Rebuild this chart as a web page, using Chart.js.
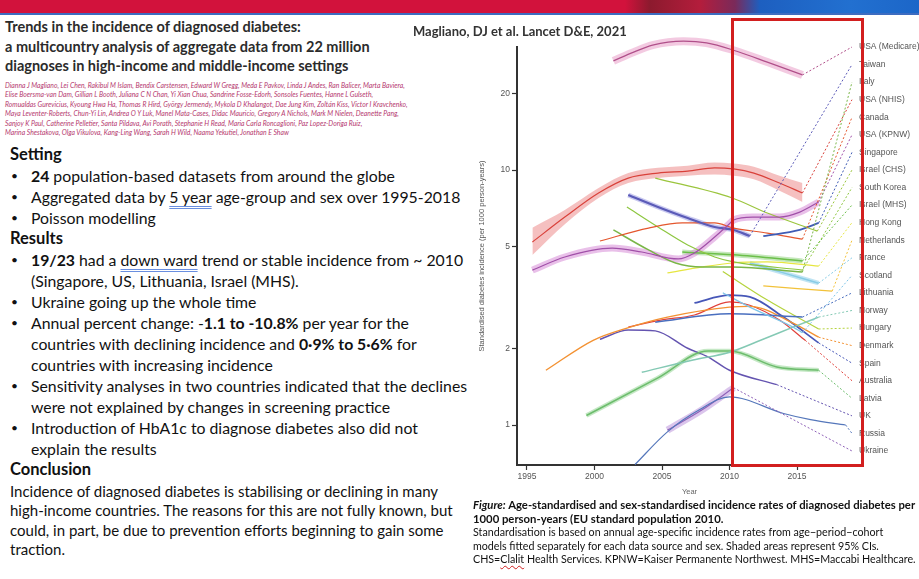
<!DOCTYPE html>
<html>
<head>
<meta charset="utf-8">
<script src="https://cdn.jsdelivr.net/npm/chart.js@4.4.1/dist/chart.umd.min.js"></script>
<style>
  html, body { margin: 0; padding: 0; background: #fff; }
  body { width: 919px; height: 579px; position: relative; overflow: hidden; font-family: Lato, "Open Sans", sans-serif; color: #111; }
  #banner { position: absolute; left: 0; top: 0; width: 919px; height: 13px;
    background: linear-gradient(90deg, #d2123c 0, #d2123c 625px, #8c1a2e 650px, #b41d3c 700px, #7a2a5a 735px, #1d5fc0 760px, #2270d0 850px, #1c66c8 919px); }
  #bannerLine { position: absolute; left: 0; top: 13px; width: 919px; height: 2px; background: #3d6cc0; }
  #title { position: absolute; left: 5px; top: 17px; font-family: "Liberation Sans Narrow", "Arial Narrow", Lato, sans-serif; font-weight: bold; font-size: 14.5px; line-height: 19.5px; color: #2b2b2b; white-space: nowrap; }
  #authors { position: absolute; left: 5px; top: 81px; font-family: "Liberation Sans Narrow", "Arial Narrow", Lato, sans-serif; font-style: italic; font-size: 6.8px; line-height: 9.45px; color: #b5386e; white-space: nowrap; }
  #body { position: absolute; left: 0; top: 144px; font-size: 15.8px; line-height: 21px; white-space: nowrap; }
  .h { padding-left: 10px; font-weight: bold; font-size: 16.5px; }
  .b, .c { padding-left: 31px; position: relative; }
  .b .dot { position: absolute; left: 11px; font-size: 12px; }
  .u { text-decoration: underline double; text-decoration-color: #6a8fe0; text-underline-offset: 3px; text-decoration-thickness: 1px; }
  #concl { position: absolute; left: 10px; top: 482px; font-size: 15px; line-height: 19.4px; white-space: nowrap; }
  #chartBox { position: absolute; left: 470px; top: 20px; width: 449px; height: 500px; background: #fff; }
  #ref { position: absolute; left: 413px; top: 23px; font-weight: bold; font-size: 13px; color: #333; white-space: nowrap; }
  #redBox { position: absolute; left: 731px; top: 18px; width: 133px; height: 449px; border: 3px solid #d21f1f; box-sizing: border-box; }
  #caption { position: absolute; left: 473px; top: 498px; font-size: 10.7px; line-height: 13.5px; color: #111; white-space: nowrap; }
  #caption b { font-size: 11.3px; }
  .wavy { text-decoration: underline wavy #d02020; text-decoration-thickness: 1px; text-underline-offset: 2px; }
</style>
</head>
<body>
<div id="banner"></div>
<div id="bannerLine"></div>

<div id="title">Trends in the incidence of diagnosed diabetes:<br>a multicountry analysis of aggregate data from 22 million<br>diagnoses in high-income and middle-income settings</div>

<div id="authors">
Dianna J Magliano, Lei Chen, Rakibul M Islam, Bendix Carstensen, Edward W Gregg, Meda E Pavkov, Linda J Andes, Ran Balicer, Marta Baviera,<br>
Elise Boersma-van Dam, Gillian L Booth, Juliana C N Chan, Yi Xian Chua, Sandrine Fosse-Edorh, Sonsoles Fuentes, Hanne L Gulseth,<br>
Romualdas Gurevicius, Kyoung Hwa Ha, Thomas R Hird, György Jermendy, Mykola D Khalangot, Dae Jung Kim, Zoltán Kiss, Victor I Kravchenko,<br>
Maya Leventer-Roberts, Chun-Yi Lin, Andrea O Y Luk, Manel Mata-Cases, Didac Mauricio, Gregory A Nichols, Mark M Nielen, Deanette Pang,<br>
Sanjoy K Paul, Catherine Pelletier, Santa Pildava, Avi Porath, Stephanie H Read, Maria Carla Roncaglioni, Paz Lopez-Doriga Ruiz,<br>
Marina Shestakova, Olga Vikulova, Kang-Ling Wang, Sarah H Wild, Naama Yekutiel, Jonathan E Shaw
</div>

<div id="body">
  <div class="h">Setting</div>
  <div class="b"><span class="dot">•</span><b>24</b> population-based datasets from around the globe</div>
  <div class="b"><span class="dot">•</span>Aggregated data by <span class="u">5 year</span> age-group and sex over 1995-2018</div>
  <div class="b"><span class="dot">•</span>Poisson modelling</div>
  <div class="h">Results</div>
  <div class="b"><span class="dot">•</span><b>19/23</b> had a <span class="u">down ward</span> trend or stable incidence from ~ 2010</div>
  <div class="c">(Singapore, US, Lithuania, Israel (MHS).</div>
  <div class="b"><span class="dot">•</span>Ukraine going up the whole time</div>
  <div class="b"><span class="dot">•</span>Annual percent change: -<b>1.1 to -10.8%</b> per year for the</div>
  <div class="c">countries with declining incidence and <b>0·9% to 5·6%</b> for</div>
  <div class="c">countries with increasing incidence</div>
  <div class="b"><span class="dot">•</span>Sensitivity analyses in two countries indicated that the declines</div>
  <div class="c">were not explained by changes in screening practice</div>
  <div class="b"><span class="dot">•</span>Introduction of HbA1c to diagnose diabetes also did not</div>
  <div class="c">explain the results</div>
  <div class="h">Conclusion</div>
</div>
<div id="concl">Incidence of diagnosed diabetes is stabilising or declining in many<br>high-income countries. The reasons for this are not fully known, but<br>could, in part, be due to prevention efforts beginning to gain some<br>traction.</div>

<div id="chartBox"><canvas id="chart" width="449" height="500"></canvas></div>
<div id="ref">Magliano, DJ et al. Lancet D&amp;E, 2021</div>
<div id="redBox"></div>

<div id="caption">
<b><i>Figure:</i> Age-standardised and sex-standardised incidence rates of diagnosed diabetes per</b><br>
<b>1000 person-years (EU standard population 2010.</b><br>
Standardisation is based on annual age-specific incidence rates from age−period−cohort<br>
models fitted separately for each data source and sex. Shaded areas represent 95% CIs.<br>
CHS=<span class="wavy">Clalit</span> Health Services. KPNW=Kaiser Permanente Northwest. MHS=Maccabi Healthcare.
</div>

<script>
// ==== Data (year, incidence per 1000 person-years) ====
const labelNames = ['USA (Medicare)', 'Taiwan', 'Italy', 'USA (NHIS)', 'Canada', 'USA (KPNW)', 'Singapore',
  'Israel (CHS)', 'South Korea', 'Israel (MHS)', 'Hong Kong', 'Netherlands', 'France', 'Scotland',
  'Lithuania', 'Norway', 'Hungary', 'Denmark', 'Spain', 'Australia', 'Latvia', 'UK', 'Russia', 'Ukraine'];
const xTicks = [1995, 2000, 2005, 2010, 2015];
const yTicks = [1, 2, 5, 10, 20];

const usaMedicare = [[2001.4, 26.8], [2002.9, 29.0], [2004.3, 30.9], [2006.6, 32.0], [2008.3, 31.5], [2010.3, 29.5], [2012.8, 26.5], [2015.4, 23.6]];
const usaNhis = [[1995.4, 5.22], [1997.8, 6.54], [2000.3, 8.13], [2002.5, 9.3], [2004.7, 9.73], [2006.9, 9.9], [2008.9, 10.2], [2010.3, 10.1], [2011.8, 9.73], [2013.7, 8.89], [2015.4, 8.13]];
const usaNhisUpper = [[1995.4, 5.94], [1997.8, 6.97], [2000.3, 8.5], [2002.5, 9.73], [2004.7, 10.2], [2006.9, 10.4], [2008.9, 10.7], [2010.3, 10.6], [2011.8, 10.3], [2013.7, 9.5], [2015.4, 8.9]];
const usaNhisLower = [[1995.4, 4.64], [1997.8, 6.13], [2000.3, 7.77], [2002.5, 8.89], [2004.7, 9.3], [2006.9, 9.5], [2008.9, 9.6], [2010.3, 9.5], [2011.8, 9.2], [2013.7, 8.3], [2015.4, 7.5]];
const usaKpnw = [[1995.4, 4.05], [1997.8, 4.56], [2001.3, 4.94], [2003.5, 4.77], [2006.2, 4.48], [2007.4, 4.73], [2008.9, 5.46], [2009.9, 6.09], [2010.3, 6.37], [2011.7, 6.54], [2013.7, 6.54], [2015.2, 6.84], [2016.6, 7.49]];
const israelChs = [[2004.5, 9.3], [2010.2, 7.77], [2012.8, 6.78], [2016.5, 5.76]];
const taiwan = [[2002.5, 7.98], [2004.7, 7.16], [2006.9, 6.48], [2008.9, 5.98], [2010.3, 5.82], [2011.5, 5.51]];
const singapore = [[2012.5, 5.51], [2015.2, 5.82], [2016.6, 6.2]];
const canada = [[2000.4, 5.27], [2004.0, 5.92], [2006.5, 6.2], [2008.9, 6.2], [2010.3, 5.92], [2012.8, 5.66], [2015.4, 5.36]];
const southKorea = [[2002.4, 7.16], [2004.7, 5.98], [2006.9, 5.08], [2008.9, 4.56], [2010.3, 4.36], [2015.4, 4.05]];
const italy = [[2001.4, 5.82], [2004.0, 4.86], [2006.0, 4.32], [2008.0, 4.17], [2010.2, 4.17], [2015.4, 3.98]];
const israelMhs = [[2006.5, 4.77], [2010.3, 4.65], [2015.4, 4.4]];
const hongKong = [[2005.4, 3.95], [2008.0, 4.17], [2010.2, 4.32], [2012.8, 4.36], [2016.6, 4.2]];
const netherlands = [[2012.5, 3.51], [2017.6, 3.35]];
const france = [[2011.5, 4.32], [2014.0, 3.95], [2016.6, 3.6]];
const scotland = [[2009.5, 3.3], [2011.5, 2.9], [2014.7, 2.42], [2015.4, 2.3]];
const lithuania = [[2004.5, 2.53], [2010.0, 2.73], [2015.4, 2.65]];
const norway = [[2003.5, 1.61], [2007.3, 1.8], [2010.0, 1.93], [2012.3, 2.15], [2014.7, 2.42], [2016.6, 2.65]];
const hungary = [[2009.5, 4.0], [2012.8, 3.09], [2016.6, 2.38]];
const denmark = [[1996.4, 1.64], [1999.9, 2.15], [2002.4, 2.4], [2005.4, 2.65], [2010.0, 2.9], [2011.5, 2.92], [2014.7, 2.51], [2016.6, 2.21]];
const spain = [[2007.4, 3.01], [2010.0, 3.23], [2011.5, 3.18], [2014.0, 2.65], [2016.6, 2.1]];
const australia = [[2002.5, 2.42], [2004.9, 2.58], [2007.4, 2.7], [2010.0, 3.04], [2011.5, 2.95], [2013.7, 2.58], [2015.6, 2.15]];
const latvia = [[1999.4, 1.09], [2004.7, 1.53], [2008.4, 1.95], [2010.0, 1.95], [2013.5, 1.69], [2016.6, 1.64]];
const uk = [[2000.4, 2.17], [2002.5, 2.36], [2004.5, 2.34], [2006.9, 2.0], [2008.4, 1.85], [2010.0, 1.64], [2013.5, 1.44]];
const russia = [[2003.0, 0.70], [2005.4, 0.94], [2007.8, 1.15], [2010.0, 1.29], [2014.0, 1.11], [2016.0, 1.05], [2018.6, 1.0]];
const ukraine = [[2005.4, 0.955], [2008.0, 1.15], [2010.3, 1.4]];

// ==== Styles per country ====
const series = [
  { label: 'USA (Medicare)', data: usaMedicare, color: '#b0508a', band: 'rgba(232,150,195,0.5)', bandWidth: 8 },
  { label: 'USA (NHIS)', data: usaNhis, color: '#d9413a' },
  { label: 'USA (KPNW)', data: usaKpnw, color: '#a050a8', band: 'rgba(215,140,215,0.55)', bandWidth: 7 },
  { label: 'Israel (CHS)', data: israelChs, color: '#9bc53d' },
  { label: 'Taiwan', data: taiwan, color: '#5b5bb8', width: 2.2, band: 'rgba(150,150,225,0.5)', bandWidth: 5 },
  { label: 'Singapore', data: singapore, color: '#3f5cb5', width: 1.8 },
  { label: 'Canada', data: canada, color: '#e4572e' },
  { label: 'South Korea', data: southKorea, color: '#8dc63f' },
  { label: 'Italy', data: italy, color: '#7ab648', width: 1.5 },
  { label: 'Israel (MHS)', data: israelMhs, color: '#6cbf4a', width: 1.5, band: 'rgba(140,210,120,0.5)', bandWidth: 5 },
  { label: 'Hong Kong', data: hongKong, color: '#e6e640' },
  { label: 'Netherlands', data: netherlands, color: '#f2c23a' },
  { label: 'France', data: france, color: '#88cce6', width: 1.5, band: 'rgba(150,210,235,0.6)', bandWidth: 4.5 },
  { label: 'Scotland', data: scotland, color: '#7cc4e8' },
  { label: 'Lithuania', data: lithuania, color: '#4a6fbf', width: 1.5 },
  { label: 'Norway', data: norway, color: '#84c9b4', width: 1.5 },
  { label: 'Hungary', data: hungary, color: '#b5d33d' },
  { label: 'Denmark', data: denmark, color: '#f39233', width: 1.4 },
  { label: 'Spain', data: spain, color: '#4757b8', width: 1.8 },
  { label: 'Australia', data: australia, color: '#e0403a' },
  { label: 'Latvia', data: latvia, color: '#6dbd6d', width: 1.5, band: 'rgba(140,210,140,0.5)', bandWidth: 4.5 },
  { label: 'UK', data: uk, color: '#6454b0', width: 1.5 },
  { label: 'Russia', data: russia, color: '#5577bb' },
  { label: 'Ukraine', data: ukraine, color: '#8f62b8', band: 'rgba(190,150,220,0.55)', bandWidth: 7 }
];

function pts(arr) { return arr.map(p => ({ x: p[0], y: p[1] })); }

const datasets = [];
// CI band for USA (NHIS)
datasets.push({ data: pts(usaNhisUpper), borderWidth: 0, borderColor: 'transparent', pointRadius: 0, fill: false, order: 3, cubicInterpolationMode: 'monotone', clip: false });
datasets.push({ data: pts(usaNhisLower), borderWidth: 0, borderColor: 'transparent', pointRadius: 0, fill: '-1', backgroundColor: 'rgba(236,140,140,0.55)', order: 3, cubicInterpolationMode: 'monotone', clip: false });
series.forEach(s => {
  if (s.band) {
    datasets.push({ data: pts(s.data), borderColor: s.band, borderWidth: s.bandWidth, pointRadius: 0, fill: false,
      order: 2, cubicInterpolationMode: 'monotone', clip: false, borderCapStyle: 'butt' });
  }
  s.index = datasets.length;
  datasets.push({ data: pts(s.data), borderColor: s.color, borderWidth: s.width || 1.2, pointRadius: 0, fill: false,
    order: 1, cubicInterpolationMode: 'monotone', clip: false });
});

// dotted leader lines from each curve to its name at the right
const leaderLines = {
  id: 'leaderLines',
  afterDatasetsDraw(chart) {
    const { ctx, chartArea } = chart;
    const step = (chartArea.bottom - 14 - chartArea.top) / (labelNames.length - 1);
    ctx.save();
    ctx.lineWidth = 1;
    ctx.setLineDash([2, 2]);
    series.forEach(s => {
      const pts = chart.getDatasetMeta(s.index).data;
      const last = pts[pts.length - 1];
      const ly = chartArea.top + labelNames.indexOf(s.label) * step;
      ctx.strokeStyle = s.color;
      ctx.beginPath();
      ctx.moveTo(last.x, last.y);
      ctx.lineTo(chartArea.right - 10, ly);
      ctx.stroke();
    });
    ctx.setLineDash([]);
    ctx.fillStyle = '#555';
    ctx.font = '8.5px "Liberation Sans", sans-serif';
    ctx.textBaseline = 'middle';
    ctx.textAlign = 'left';
    labelNames.forEach((n, i) => ctx.fillText(n, chartArea.right - 3, chartArea.top + i * step));
    ctx.restore();
  }
};

const axisFont = { family: '"Liberation Sans", sans-serif', size: 8.5 };

new Chart(document.getElementById('chart'), {
  type: 'line',
  data: { datasets: datasets },
  plugins: [leaderLines],
  options: {
    responsive: false,
    animation: false,
    devicePixelRatio: 1,
    layout: { padding: { left: 0, top: 27, right: 57, bottom: 23 } },
    plugins: { legend: { display: false }, tooltip: { enabled: false } },
    scales: {
      x: {
        type: 'linear', min: 1994.26, max: 2019.81,
        afterBuildTicks: s => { s.ticks = xTicks.map(v => ({ value: v })); },
        afterFit: s => { s.height = 32; },
        ticks: { color: '#555', font: axisFont, padding: 2, maxRotation: 0, callback: v => String(v) },
        grid: { drawOnChartArea: false, drawTicks: true, tickLength: 5, tickColor: '#333', tickWidth: 1.2 },
        border: { display: true, color: '#333', width: 2 },
        title: { display: true, text: 'Year', color: '#666', font: { family: '"Liberation Sans", sans-serif', size: 7.5 }, padding: { top: 0, bottom: 1 } }
      },
      y: {
        type: 'logarithmic', min: 0.697, max: 30.37,
        afterBuildTicks: s => { s.ticks = yTicks.map(v => ({ value: v })); },
        afterFit: s => { s.width = 47; },
        ticks: { color: '#555', font: axisFont, padding: 2, callback: v => String(v) },
        grid: { drawOnChartArea: false, drawTicks: true, tickLength: 5, tickColor: '#333', tickWidth: 1.2 },
        border: { display: true, color: '#333', width: 2 },
        title: { display: true, text: 'Standardised diabetes incidence (per 1000 person-years)', color: '#555', font: { family: '"Liberation Sans", sans-serif', size: 7.5 }, padding: { top: 7, bottom: 0 } }
      }
    }
  }
});
</script>
</body>
</html>
